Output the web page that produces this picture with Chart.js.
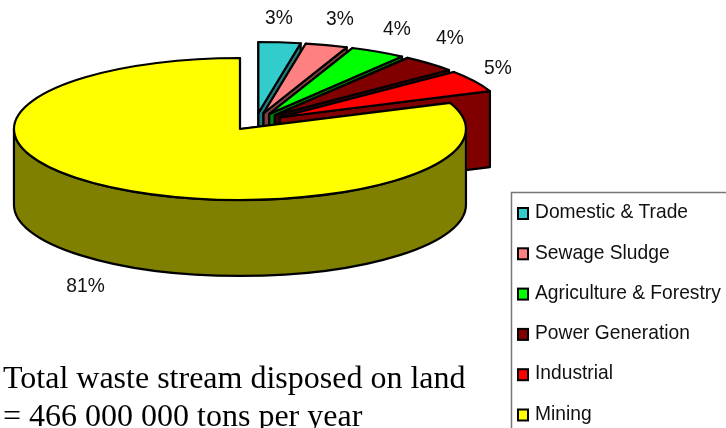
<!DOCTYPE html>
<html><head><meta charset="utf-8">
<style>html,body{margin:0;padding:0;background:#fff;overflow:hidden}canvas{display:block}</style>
<script src="https://cdn.jsdelivr.net/npm/chart.js@4"></script>
</head><body><canvas id="c" width="726" height="428"></canvas>
<script>
const categories = ["Domestic & Trade","Sewage Sludge","Agriculture & Forestry","Power Generation","Industrial","Mining"];
const shares = [3,3,4,4,5,81];
const topColors = ["#33CCCC","#FF8080","#00FF00","#800000","#FF0000","#FFFF00"];
const sideColors = ["#1F7A7A","#804040","#008000","#400000","#800000","#808000"];
const noteLines = ["Total waste stream disposed on land","= 466 000 000 tons per year"];
const labelAnchors = [[279,18],[340,19],[397,29],[450,38],[498,68],[85.5,286]];

const SQUASH = 0.314, DEPTH = 76, RADIUS = 198, NARROW = 0.915;

function narrowText(ctx,t,x,y){
  ctx.save(); ctx.translate(x,y); ctx.scale(NARROW,1); ctx.fillText(t,0,0); ctx.restore();
}

const pie3d = {
  id:'pie3d',
  beforeDatasetsDraw(chart){
    const ctx = chart.ctx, arcs = chart.getDatasetMeta(0).data;
    arcs.forEach((arc,i)=>{
      const {x,y,startAngle:a0,endAngle:a1} = arc;
      const off = arc.options.offset/4, mid=(a0+a1)/2, r = arc.outerRadius+off;
      const ax = x+Math.cos(mid)*off, ay = y+Math.sin(mid)*off*SQUASH;
      const px = t=>ax+Math.cos(t)*r, py = t=>ay+Math.sin(t)*r*SQUASH;
      ctx.save();
      ctx.lineWidth=2.2; ctx.strokeStyle='#000'; ctx.lineJoin='round';
      ctx.fillStyle=sideColors[i];
      [a0,a1].forEach(t=>{
        ctx.beginPath();
        ctx.moveTo(ax,ay); ctx.lineTo(px(t),py(t));
        ctx.lineTo(px(t),py(t)+DEPTH); ctx.lineTo(ax,ay+DEPTH); ctx.closePath();
        ctx.fill(); ctx.stroke();
      });
      const w0=Math.max(a0,0), w1=Math.min(a1,Math.PI);
      if(w1>w0){
        ctx.beginPath();
        ctx.ellipse(ax,ay,r,r*SQUASH,0,w0,w1);
        ctx.ellipse(ax,ay+DEPTH,r,r*SQUASH,0,w1,w0,true);
        ctx.closePath(); ctx.fill(); ctx.stroke();
      }
      ctx.fillStyle=arc.options.backgroundColor;
      ctx.beginPath(); ctx.moveTo(ax,ay);
      ctx.ellipse(ax,ay,r,r*SQUASH,0,a0,a1); ctx.closePath();
      ctx.fill(); ctx.stroke();
      ctx.restore();
    });
    return false;
  },
  afterDraw(chart){
    const ctx = chart.ctx;
    ctx.save();
    ctx.textBaseline='middle'; ctx.textAlign='center'; ctx.fillStyle='#111';
    ctx.font='21px "Liberation Sans"';
    shares.forEach((v,i)=>narrowText(ctx,v+'%',labelAnchors[i][0],labelAnchors[i][1]));
    ctx.strokeStyle='#777'; ctx.lineWidth=1.5;
    ctx.strokeRect(511.5,192.5,230,260);
    ctx.textAlign='left';
    categories.forEach((c,i)=>{
      const y=212.5+i*40.3;
      ctx.fillStyle=topColors[i]; ctx.strokeStyle='#000'; ctx.lineWidth=2;
      ctx.fillRect(518,y-4.5,10,11); ctx.strokeRect(518,y-4.5,10,11);
      ctx.fillStyle='#111';
      narrowText(ctx,c,535,y);
    });
    ctx.fillStyle='#000'; ctx.textBaseline='alphabetic';
    ctx.font='32px "Liberation Serif"';
    noteLines.forEach((t,i)=>ctx.fillText(t,3,388+i*38));
    ctx.restore();
  }
};

new Chart(document.getElementById('c'),{
  type:'pie',
  data:{labels:categories,datasets:[{data:shares,backgroundColor:topColors,borderWidth:0,offset:112,hoverOffset:0}]},
  options:{
    responsive:false,animation:false,events:[],radius:RADIUS,
    layout:{padding:{right:214.6,bottom:184.6}},
    plugins:{legend:{display:false},tooltip:{enabled:false}}
  },
  plugins:[pie3d]
});
</script></body></html>
